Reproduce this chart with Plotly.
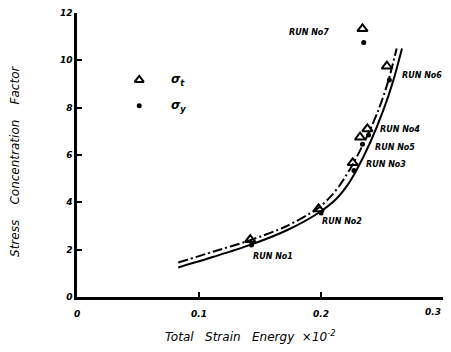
import plotly.graph_objects as go

# Data
run_names = ["RUN No1", "RUN No2", "RUN No3", "RUN No4", "RUN No5", "RUN No6", "RUN No7"]
energy = [0.142, 0.198, 0.226, 0.238, 0.232, 0.254, 0.234]
sigma_t = [2.42, 3.72, 5.67, 7.1, 6.75, 9.75, 11.33]
sigma_y_energy = [0.143, 0.200, 0.227, 0.239, 0.234, 0.256, 0.235]
sigma_y = [2.2, 3.55, 5.35, 6.85, 6.45, 9.17, 10.75]

solid_x = [0.083, 0.112, 0.142, 0.172, 0.1975, 0.212, 0.222, 0.2295, 0.2405, 0.2508, 0.259, 0.2664]
solid_y = [1.25, 1.70, 2.20, 2.82, 3.54, 4.12, 4.75, 5.40, 6.55, 7.85, 9.1, 10.5]
dash_x = [0.083, 0.112, 0.142, 0.172, 0.1975, 0.208, 0.2164, 0.2254, 0.236, 0.2467, 0.255, 0.262]
dash_y = [1.46, 1.92, 2.40, 3.0, 3.75, 4.25, 4.8, 5.55, 6.6, 7.85, 9.1, 10.5]

x_ticks = [0, 0.1, 0.2, 0.3]
x_tick_labels = ["0", "0.1", "0.2", "0.3"]
y_ticks = [0, 2, 4, 6, 8, 10, 12]
y_tick_labels = ["0", "2", "4", "6", "8", "10", "12"]

FONT = "DejaVu Sans"
ink = "#000000"
tick_font = dict(family=FONT, size=9, color=ink, style="italic", weight="bold")

fig = go.Figure()
fig.add_trace(go.Scatter(x=solid_x, y=solid_y, mode="lines",
                         line=dict(color=ink, width=2, shape="spline", smoothing=0.8), showlegend=False))
fig.add_trace(go.Scatter(x=dash_x, y=dash_y, mode="lines",
                         line=dict(color=ink, width=2, shape="spline", smoothing=0.8,
                                   dash="10px,3px,2px,3px"),
                         showlegend=False))
fig.add_trace(go.Scatter(x=energy, y=sigma_t, mode="markers",
                         marker=dict(symbol="triangle-up-open", size=9, color=ink,
                                     line=dict(width=2, color=ink)), showlegend=False))
fig.add_trace(go.Scatter(x=sigma_y_energy, y=sigma_y, mode="markers",
                         marker=dict(symbol="circle", size=5, color=ink), showlegend=False))
# legend symbols
fig.add_trace(go.Scatter(x=[0.051], y=[9.17], mode="markers",
                         marker=dict(symbol="triangle-up-open", size=8, color=ink,
                                     line=dict(width=2, color=ink)), showlegend=False))
fig.add_trace(go.Scatter(x=[0.051], y=[8.08], mode="markers",
                         marker=dict(symbol="circle", size=5, color=ink), showlegend=False))

lab_font = dict(family=FONT, size=8, color=ink, style="italic", weight="bold")
label_pos = {
    "RUN No1": (0.143, 1.71, "left"),
    "RUN No2": (0.199, 3.2, "left"),
    "RUN No3": (0.235, 5.58, "left"),
    "RUN No4": (0.247, 7.08, "left"),
    "RUN No5": (0.243, 6.33, "left"),
    "RUN No6": (0.265, 9.375, "left"),
    "RUN No7": (0.19, 11.17, "center"),
}
annotations = []
for name in run_names:
    x, y, anc = label_pos[name]
    annotations.append(dict(x=x, y=y, xref="x", yref="y", text=name, showarrow=False,
                            xanchor=anc, yanchor="middle", font=lab_font))
sig_font = dict(family=FONT, size=12, color=ink, style="italic", weight="bold")
annotations.append(dict(x=0.075, y=9.17, xref="x", yref="y", text="σ<sub>t</sub>", showarrow=False,
                        xanchor="left", font=sig_font))
annotations.append(dict(x=0.075, y=8.08, xref="x", yref="y", text="σ<sub>y</sub>", showarrow=False,
                        xanchor="left", font=sig_font))
annotations.append(dict(x=-0.169, y=0.476, xref="paper", yref="paper",
                        text="Stress    Concentration    Factor", textangle=-90, showarrow=False,
                        xanchor="center", yanchor="middle",
                        font=dict(family=FONT, size=12, color=ink, style="italic")))
annotations.append(dict(x=0.473, y=-0.139, xref="paper", yref="paper",
                        text="Total   Strain   Energy  ×10<sup>-2</sup>", showarrow=False,
                        xanchor="center", yanchor="middle",
                        font=dict(family=FONT, size=12, color=ink, style="italic")))
# last x tick label sits at the page edge, so it is right-aligned to stay visible
annotations.append(dict(x=x_ticks[-1], y=0, xref="x", yref="y", text=x_tick_labels[-1],
                        showarrow=False, xanchor="right", yanchor="top", yshift=-8, font=tick_font))

# The page body adds an 8px margin; the figure is sized to fit the 451x352 window exactly.
fig.update_layout(
    width=435, height=336,
    margin=dict(l=69, r=0, t=1, b=47),
    paper_bgcolor="white", plot_bgcolor="white",
    annotations=annotations,
    xaxis=dict(range=[0, 0.3], tickvals=x_ticks, ticktext=x_tick_labels[:-1] + [""], showgrid=False,
               zeroline=False, showline=True, linecolor=ink, linewidth=2.5,
               ticks="inside", ticklen=5, tickwidth=1.5, tickcolor=ink,
               ticklabelstandoff=6, ticklabeloverflow="allow", tickfont=tick_font),
    yaxis=dict(range=[0, 12], tickvals=y_ticks, ticktext=y_tick_labels, showgrid=False,
               zeroline=False, showline=True, linecolor=ink, linewidth=2.5,
               ticks="inside", ticklen=5, tickwidth=1.5, tickcolor=ink,
               ticklabeloverflow="allow", tickfont=tick_font),
)

fig.write_html("out.html", config={"displayModeBar": False})
